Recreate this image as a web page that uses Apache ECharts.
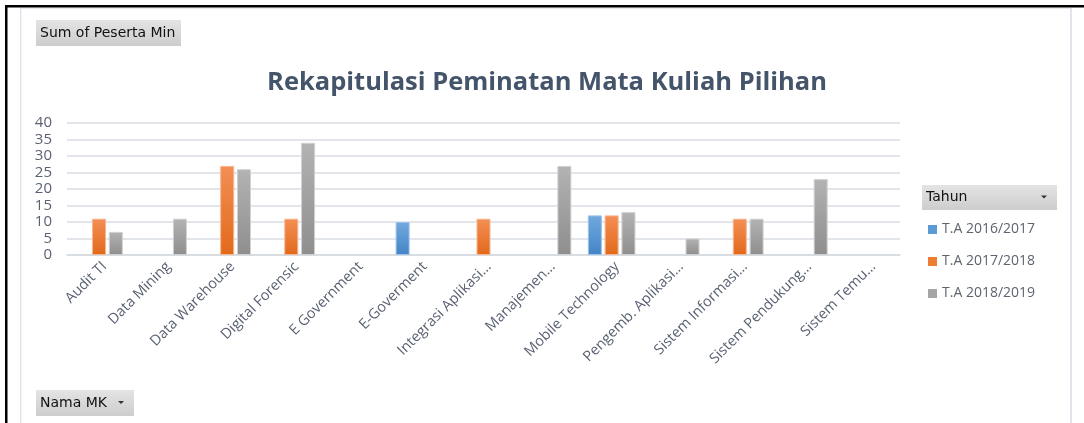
<!DOCTYPE html>
<html>
	<head>
		<title>Rekapitulasi Peminatan</title>
		<meta charset="utf-8">
		<style>
			html, body { margin: 0; padding: 0; background: #fff; }
			#chart { width: 1084px; height: 423px; }
		</style>
	</head>
	<body>
		<div id="chart"></div>
	</body>
	<script type="text/javascript" src="https://cdn.jsdelivr.net/npm/echarts@6/dist/echarts.min.js"></script>
	<script type="text/javascript">
		// data
		var categories = ['Audit TI', 'Data Mining', 'Data Warehouse', 'Digital Forensic', 'E Government', 'E-Goverment',
			'Integrasi Aplikasi…', 'Manajemen…', 'Mobile Technology', 'Pengemb. Aplikasi…', 'Sistem Informasi…',
			'Sistem Pendukung…', 'Sistem Temu…'];
		var seriesNames = ['T.A 2016/2017', 'T.A 2017/2018', 'T.A 2018/2019'];
		var ta2016 = [null, null, null, null, null, 10, null, null, 12, null, null, null, null];
		var ta2017 = [11, null, 27, 11, null, null, 11, null, 12, null, 11, null, null];
		var ta2018 = [7, 11, 26, 34, null, null, null, 27, 13, 5, 11, 23, null];
		var yTicks = { min: 0, max: 40, interval: 5 };

		var font = '"Open Sans", "Noto Sans", sans-serif';
		var txtColor = '#5a6272';
		var palette = [
			{ top: '#72a9de', bottom: '#4384c6', edge: '#9cc3ea', flat: '#5b9bd5' },
			{ top: '#f38f55', bottom: '#e2691a', edge: '#f7b690', flat: '#ed7d31' },
			{ top: '#b3b3b3', bottom: '#8e8e8e', edge: '#d0d0d0', flat: '#a5a5a5' }
		];

		function grad(c) {
			return new echarts.graphic.LinearGradient(0, 0, 0, 1, [
				{ offset: 0, color: c.top }, { offset: 1, color: c.bottom }
			]);
		}
		function btn(x, y, w, h, label, arrow) {
			var kids = [{
				type: 'rect', shape: { x: x, y: y, width: w, height: h },
				style: { fill: new echarts.graphic.LinearGradient(0, 0, 0, 1, [
					{ offset: 0, color: '#e4e4e4' }, { offset: 1, color: '#cdcdcd' }]) }
			}, {
				type: 'text', x: x + 4, y: y + h / 2,
				style: { text: label, fill: '#111', font: '14px Tahoma, "DejaVu Sans", sans-serif', verticalAlign: 'middle' }
			}];
			if (arrow) {
				kids.push({
					type: 'polygon', shape: { points: [[x + w - 16, y + h / 2 - 2], [x + w - 10, y + h / 2 - 2], [x + w - 13, y + h / 2 + 1]] },
					style: { fill: '#333' }
				});
			}
			return { type: 'group', children: kids };
		}

		var dataSets = [ta2016, ta2017, ta2018];
		var series = dataSets.map(function (d, i) {
			return {
				name: seriesNames[i], type: 'bar', data: d,
				barWidth: 14, barGap: '20%',
				itemStyle: { color: grad(palette[i]), borderColor: palette[i].edge, borderWidth: 1 }
			};
		});

		var myChart = echarts.init(document.getElementById('chart'));
		myChart.setOption({
			animation: false,
			title: {
				text: 'Rekapitulasi Peminatan Mata Kuliah Pilihan', left: 542, top: 65, textAlign: 'center',
				textStyle: { color: '#44546a', fontSize: 25.5, fontWeight: 'bold', fontFamily: font }
			},
			grid: { left: 67, right: 184, top: 123, bottom: 168 },
			legend: {
				orient: 'vertical', left: 928, top: 220, padding: 0, itemGap: 13, itemWidth: 9, itemHeight: 9, icon: 'rect',
				textStyle: { color: '#5e6470', fontSize: 14, fontFamily: font, lineHeight: 19 },
				data: seriesNames.map(function (n, i) { return { name: n, itemStyle: { color: palette[i].flat, borderWidth: 0 } }; })
			},
			xAxis: {
				type: 'category', data: categories,
				axisLine: { lineStyle: { color: '#d5dae0', width: 1.5 } },
				axisTick: { show: false },
				axisLabel: { rotate: 45, interval: 0, margin: 4, verticalAlign: 'top', color: txtColor, fontSize: 14.5, fontFamily: font }
			},
			yAxis: {
				type: 'value', min: yTicks.min, max: yTicks.max, interval: yTicks.interval,
				axisLine: { show: false }, axisTick: { show: false },
				splitLine: { lineStyle: { color: '#d9dee5', width: 1.5 } },
				axisLabel: { margin: 15, color: txtColor, fontSize: 15, fontFamily: font }
			},
			series: series,
			graphic: [
				{ type: 'rect', shape: { x: 5, y: 5, width: 1079, height: 2.5 }, style: { fill: '#000' } },
				{ type: 'rect', shape: { x: 5, y: 5, width: 2.5, height: 418 }, style: { fill: '#000' } },
				{ type: 'rect', shape: { x: 20, y: 8, width: 1051, height: 1 }, style: { fill: '#e6e9ee' } },
				{ type: 'rect', shape: { x: 20, y: 8, width: 1.5, height: 415 }, style: { fill: '#e1e5eb' } },
				{ type: 'rect', shape: { x: 1070, y: 8, width: 2, height: 415 }, style: { fill: '#e1e5eb' } },
				btn(36, 20, 145, 26, 'Sum of Peserta Min', false),
				btn(36, 390, 98, 26, 'Nama MK', true),
				btn(922, 185, 135, 25, 'Tahun', true)
			]
		});
	</script>
</html>
